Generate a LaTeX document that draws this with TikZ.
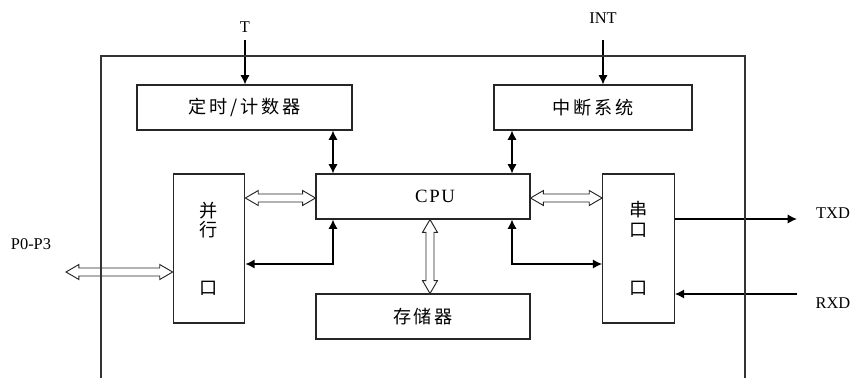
\documentclass[tikz,border=0pt]{standalone}
\usepackage{fontspec}
\setmainfont{Liberation Serif}
\newfontfamily\cjk[LetterSpace=15]{Noto Sans CJK SC}
\usetikzlibrary{arrows.meta, calc, positioning}
\tikzset{
    unit/.style={rectangle, draw=black!85, line width=0.9pt, align=center, inner sep=0pt, font=\cjk\fontsize{15.5}{17}\selectfont},
    wide/.style={unit, minimum width=6.42cm, minimum height=1.35cm},
    port/.style={unit, minimum width=2.15cm, minimum height=4.47cm},
    sig/.style={font=\fontsize{14}{16}\selectfont, inner sep=2pt},
    arrow/.style={line width=1.3pt, -{Latex[length=8pt,width=8pt]}},
    biarrow/.style={line width=1.3pt, {Latex[length=8pt,width=8pt]}-{Latex[length=8pt,width=8pt]}},
    hollow/.style={line width=0.8pt, draw=black!85, fill=white, line join=miter}
}
% hollow two-headed bus arrow between two points
\newcommand\busarrow[2]{%
    \draw [hollow] (#1)
        -- ($(#1)!11pt!(#2)!6.4pt!90:(#2)$) -- ($(#1)!11pt!(#2)!3.4pt!90:(#2)$)
        -- ($(#2)!11pt!(#1)!3.4pt!-90:(#1)$) -- ($(#2)!11pt!(#1)!6.4pt!-90:(#1)$)
        -- (#2)
        -- ($(#2)!11pt!(#1)!6.4pt!90:(#1)$) -- ($(#2)!11pt!(#1)!3.4pt!90:(#1)$)
        -- ($(#1)!11pt!(#2)!3.4pt!-90:(#2)$) -- ($(#1)!11pt!(#2)!6.4pt!-90:(#2)$)
        -- cycle;}
\begin{document}
\begin{tikzpicture}[x=0.03cm, y=-0.03cm]
    \useasboundingbox (0,0) rectangle (855,378);

    \node (timer) [wide, minimum width=6.45cm] at (244.5,107.5) {定时/计数器};
    \node (intr) [wide, minimum width=5.94cm] at (593,107.5) {中断系统};
    \node (cpu) [wide, font=\fontsize{16}{18}\selectfont] at (423,196.5) {\hspace*{0.72cm}C\kern1.5pt P\kern1.5pt U};
    \node (mem) [wide] at (423,316.5) {存储器};
    \node (par) [port] at (209,248.5) {并\\行\\[32pt]口};
    \node (ser) [port] at (638.5,248.5) {串\\口\\[32pt]口};

    \node (t) [sig] at (245,27) {T};
    \node (int) [sig] at (603,18) {INT};
    \node (p03) [sig] at (31,244) {P0-P3};
    \node (txd) [sig] at (833,213) {TXD};
    \node (rxd) [sig] at (833,303) {RXD};

    \coordinate (tx) at (797,219);
    \coordinate (rx) at (797,294);
    \coordinate (pp) at (66,272);
    \coordinate (lane) at (0,264);
    \coordinate (bus) at (0,198);
    \coordinate (ta) at (333,0);
    \coordinate (ia) at (512,0);
    \coordinate (ma) at (430,0);

    \draw [arrow, shorten <=4pt] (t) -- (t |- timer.north);
    \draw [arrow, shorten <=12pt] (int) -- (int |- intr.north);
    \draw [biarrow] (timer.south -| ta) -- (cpu.north -| ta);
    \draw [biarrow] (intr.south -| ia) -- (cpu.north -| ia);
    \draw [biarrow] (cpu.south -| ta) |- (par.east |- lane);
    \draw [biarrow] (cpu.south -| ia) |- (ser.west |- lane);
    \busarrow{par.east |- bus}{cpu.west |- bus}
    \busarrow{cpu.east |- bus}{ser.west |- bus}
    \busarrow{cpu.south -| ma}{mem.north -| ma}
    \busarrow{pp}{par.west |- pp}
    \draw [arrow] (ser.east |- tx) -- (tx);
    \draw [arrow] (rx) -- (ser.east |- rx);

    % chip outline, open at the bottom
    \draw [line width=1pt, black!80] (101,378) -- (101,56) -- (745,56) -- (745,378);
\end{tikzpicture}
\end{document}
